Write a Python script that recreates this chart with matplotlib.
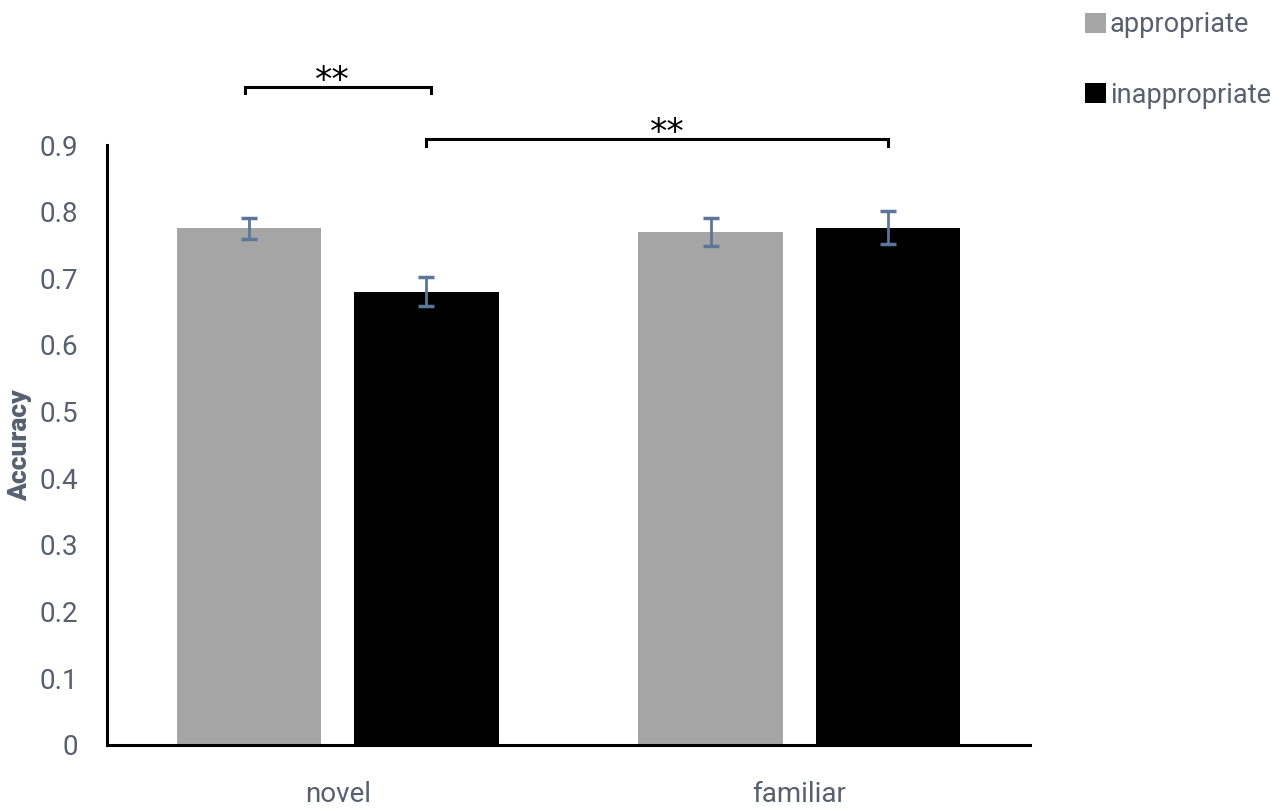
import matplotlib.pyplot as plt
import numpy as np

# data
categories = ['novel', 'familiar']
appropriate = [0.775, 0.769]
appropriate_err = [0.016, 0.021]
inappropriate = [0.680, 0.776]
inappropriate_err = [0.022, 0.025]
ytick_labels = ['0', '0.1', '0.2', '0.3', '0.4', '0.5', '0.6', '0.7', '0.8', '0.9']

TXT = '#56606f'
FONT = ['Roboto', 'DejaVu Sans']

fig = plt.figure(figsize=(12.8, 8.11), dpi=100)
ax = fig.add_axes([0.0836, 0.0814, 0.7211, 0.7398])

x = np.arange(len(categories))
w = 0.313
off = 0.192
b1 = ax.bar(x - off, appropriate, w, color='#a5a5a5', label='appropriate')
b2 = ax.bar(x + off, inappropriate, w, color='black', label='inappropriate')
err_kw = dict(fmt='none', ecolor='#5d7599', elinewidth=2, capsize=6, capthick=2.5)
ax.errorbar(x - off, appropriate, yerr=appropriate_err, **err_kw)
ax.errorbar(x + off, inappropriate, yerr=inappropriate_err, **err_kw)

ax.set_xlim(-0.5, 1.5)
ax.set_ylim(0, 0.9)
ax.set_yticks(np.arange(0, 0.95, 0.1))
ax.set_yticklabels(ytick_labels, fontsize=20, color=TXT, family=FONT)
ax.set_xticks(x)
ax.set_xticklabels(categories, fontsize=20, color=TXT, family=FONT)
ax.tick_params(axis='both', length=0)
ax.tick_params(axis='y', pad=21)
ax.tick_params(axis='x', pad=26)
for s in ['top', 'right']:
    ax.spines[s].set_visible(False)
ax.spines['left'].set_linewidth(2.2)
ax.spines['bottom'].set_linewidth(2.2)

ax.set_ylabel('Accuracy', fontsize=19, fontweight='heavy', color=TXT, labelpad=5,
              family=FONT)


def bracket(x0, x1, y, tick, label, lx):
    ax.plot([x0, x0, x1, x1], [y - tick, y, y, y - tick], color='black', lw=2.2,
            clip_on=False, solid_joinstyle='miter')
    ax.text(lx, y - 0.006, label, ha='center', va='baseline', fontsize=25,
            family='DejaVu Sans', color='black', clip_on=False)


bracket(x[0] - off - 0.01, x[0] + off + 0.01, 0.987, 0.009, '**', -0.012)
bracket(x[0] + off, x[1] + off, 0.909, 0.011, '**', 0.715)

leg = fig.legend(handles=[b1, b2], loc='upper left', bbox_to_anchor=(0.829, 1.016),
                 frameon=False, handlelength=0.75, handleheight=0.75, handletextpad=0.15,
                 labelspacing=1.6, prop={'family': FONT, 'size': 19.5})
for t in leg.get_texts():
    t.set_color(TXT)

fig.savefig('out.png', dpi=100)
